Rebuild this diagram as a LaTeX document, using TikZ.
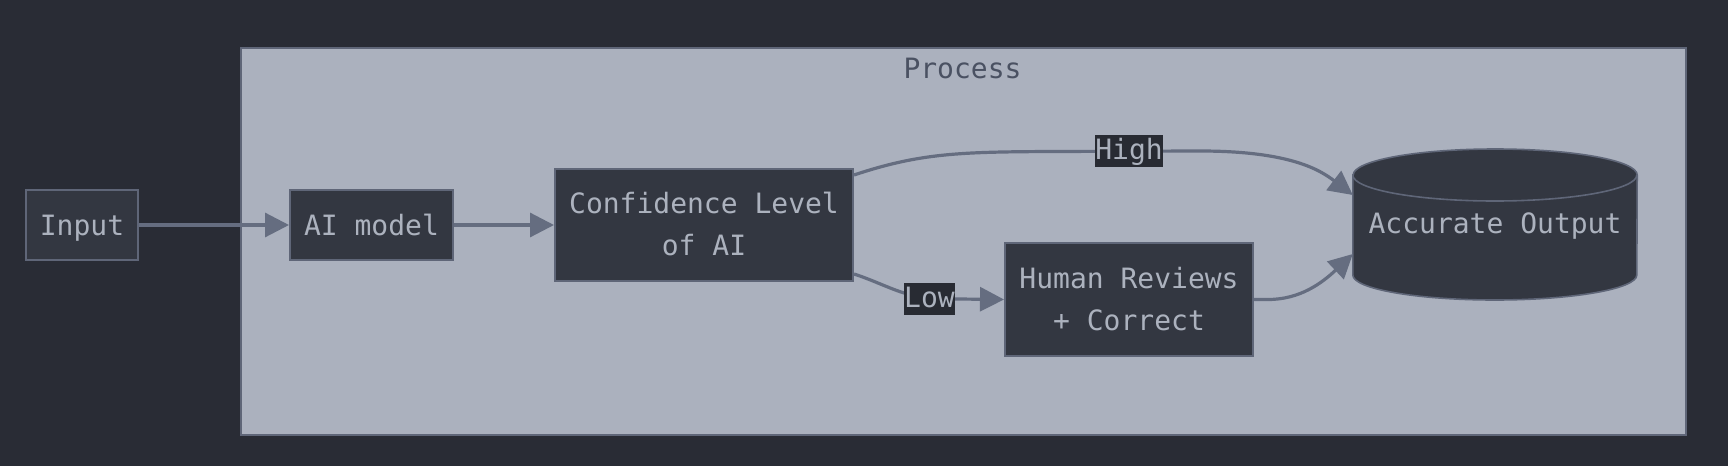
\documentclass[tikz,border=0pt]{standalone}
\usepackage{fontspec}
\newfontfamily\dmono{DejaVu Sans Mono}
\usetikzlibrary{arrows.meta,calc}
\definecolor{bgc}{HTML}{292C35}
\definecolor{clfill}{HTML}{ABB1BE}
\definecolor{clline}{HTML}{5F6678}
\definecolor{nfill}{HTML}{333741}
\definecolor{nline}{HTML}{5F6678}
\definecolor{txtc}{HTML}{ACB2BE}
\definecolor{titc}{HTML}{4A5162}
\definecolor{edgec}{HTML}{656D80}
\definecolor{lblfill}{HTML}{282B33}
\begin{document}
\begin{tikzpicture}[x=1pt,y=-1pt,
  every node/.style={font=\dmono\fontsize{28pt}{42pt}\selectfont, text=txtc},
  boxnode/.style={draw=nline, fill=nfill, line width=2pt, rectangle, inner sep=0pt,
    text height=20.4pt, text depth=0pt},
  txtnode/.style={inner sep=0pt, text height=20.4pt, text depth=0pt},
  lblnode/.style={fill=lblfill, inner xsep=0pt, inner ysep=2pt, text height=22.7pt, text depth=5.3pt},
  edge/.style={draw=edgec, line width=3.2pt, -{Triangle[length=24pt,width=24pt]}},
]
% background
\fill[bgc] (0,0) rectangle (1728,466);
\useasboundingbox (0,0) rectangle (1728,466);
% cluster
\draw[fill=clfill, draw=clline, line width=2pt] (241,48) rectangle (1686,435);
\node[anchor=base, text=titc, inner sep=0pt] (title) at (962.5,78) {Process};

% nodes
\node[boxnode, minimum width=112pt, minimum height=70pt] (inp) at (82,225) {Input};
\node[boxnode, minimum width=163pt, minimum height=70pt] (ai) at (371.5,225) {AI model};
\node[boxnode, minimum width=298pt, minimum height=112pt] (conf) at (704,225) {};
\node[txtnode] (conf1) at ([yshift=21.5pt]conf.center) {Confidence Level};
\node[txtnode] (conf2) at ([yshift=-20pt]conf.center) {of AI};
\node[boxnode, minimum width=248pt, minimum height=113pt] (hum) at (1129,299.5) {};
\node[txtnode] (hum1) at ([yshift=21.5pt]hum.center) {Human Reviews};
\node[txtnode] (hum2) at ([yshift=-20.5pt]hum.center) {+ Correct};

% cylinder
\node[inner sep=0pt, minimum width=284pt, minimum height=152pt] (out) at (1495,225) {};
\path[fill=nfill, draw=nline, line width=1.6pt]
  (out.west |- 0,175) -- (out.west |- 0,275)
  arc[start angle=180, end angle=360, x radius=142pt, y radius=25pt]
  -- (out.east |- 0,175)
  arc[start angle=0, end angle=180, x radius=142pt, y radius=26pt] -- cycle;
\draw[draw=nline, line width=1.6pt] (out.west |- 0,175)
  arc[start angle=180, end angle=360, x radius=142pt, y radius=26pt];
\node[txtnode] (outtxt) at ([yshift=2pt]out.center) {Accurate Output};

% edges
\draw[edge] (inp.east) -- (ai.west);
\draw[edge] (ai.east) -- (conf.west);
\draw[edge] ([yshift=-7pt]conf.north east)
  .. controls (920,153) and (960,152) .. (1050,151.5) -- (1200,151)
  .. controls (1290,151) and (1320,170) .. ([yshift=30pt]out.west);
\draw[edge] ([yshift=8pt]conf.south east)
  .. controls (885,284) and (905,298.5) .. (940,298.8) -- (hum.west);
\draw[edge] (hum.east) -- (1268,299.5)
  .. controls (1300,299.5) and (1322,283) .. ([yshift=-29pt]out.west);

% edge labels
\node[lblnode] (hi) at (1129,151) {High};
\node[lblnode] (lo) at (929.5,299) {Low};
\end{tikzpicture}
\end{document}
